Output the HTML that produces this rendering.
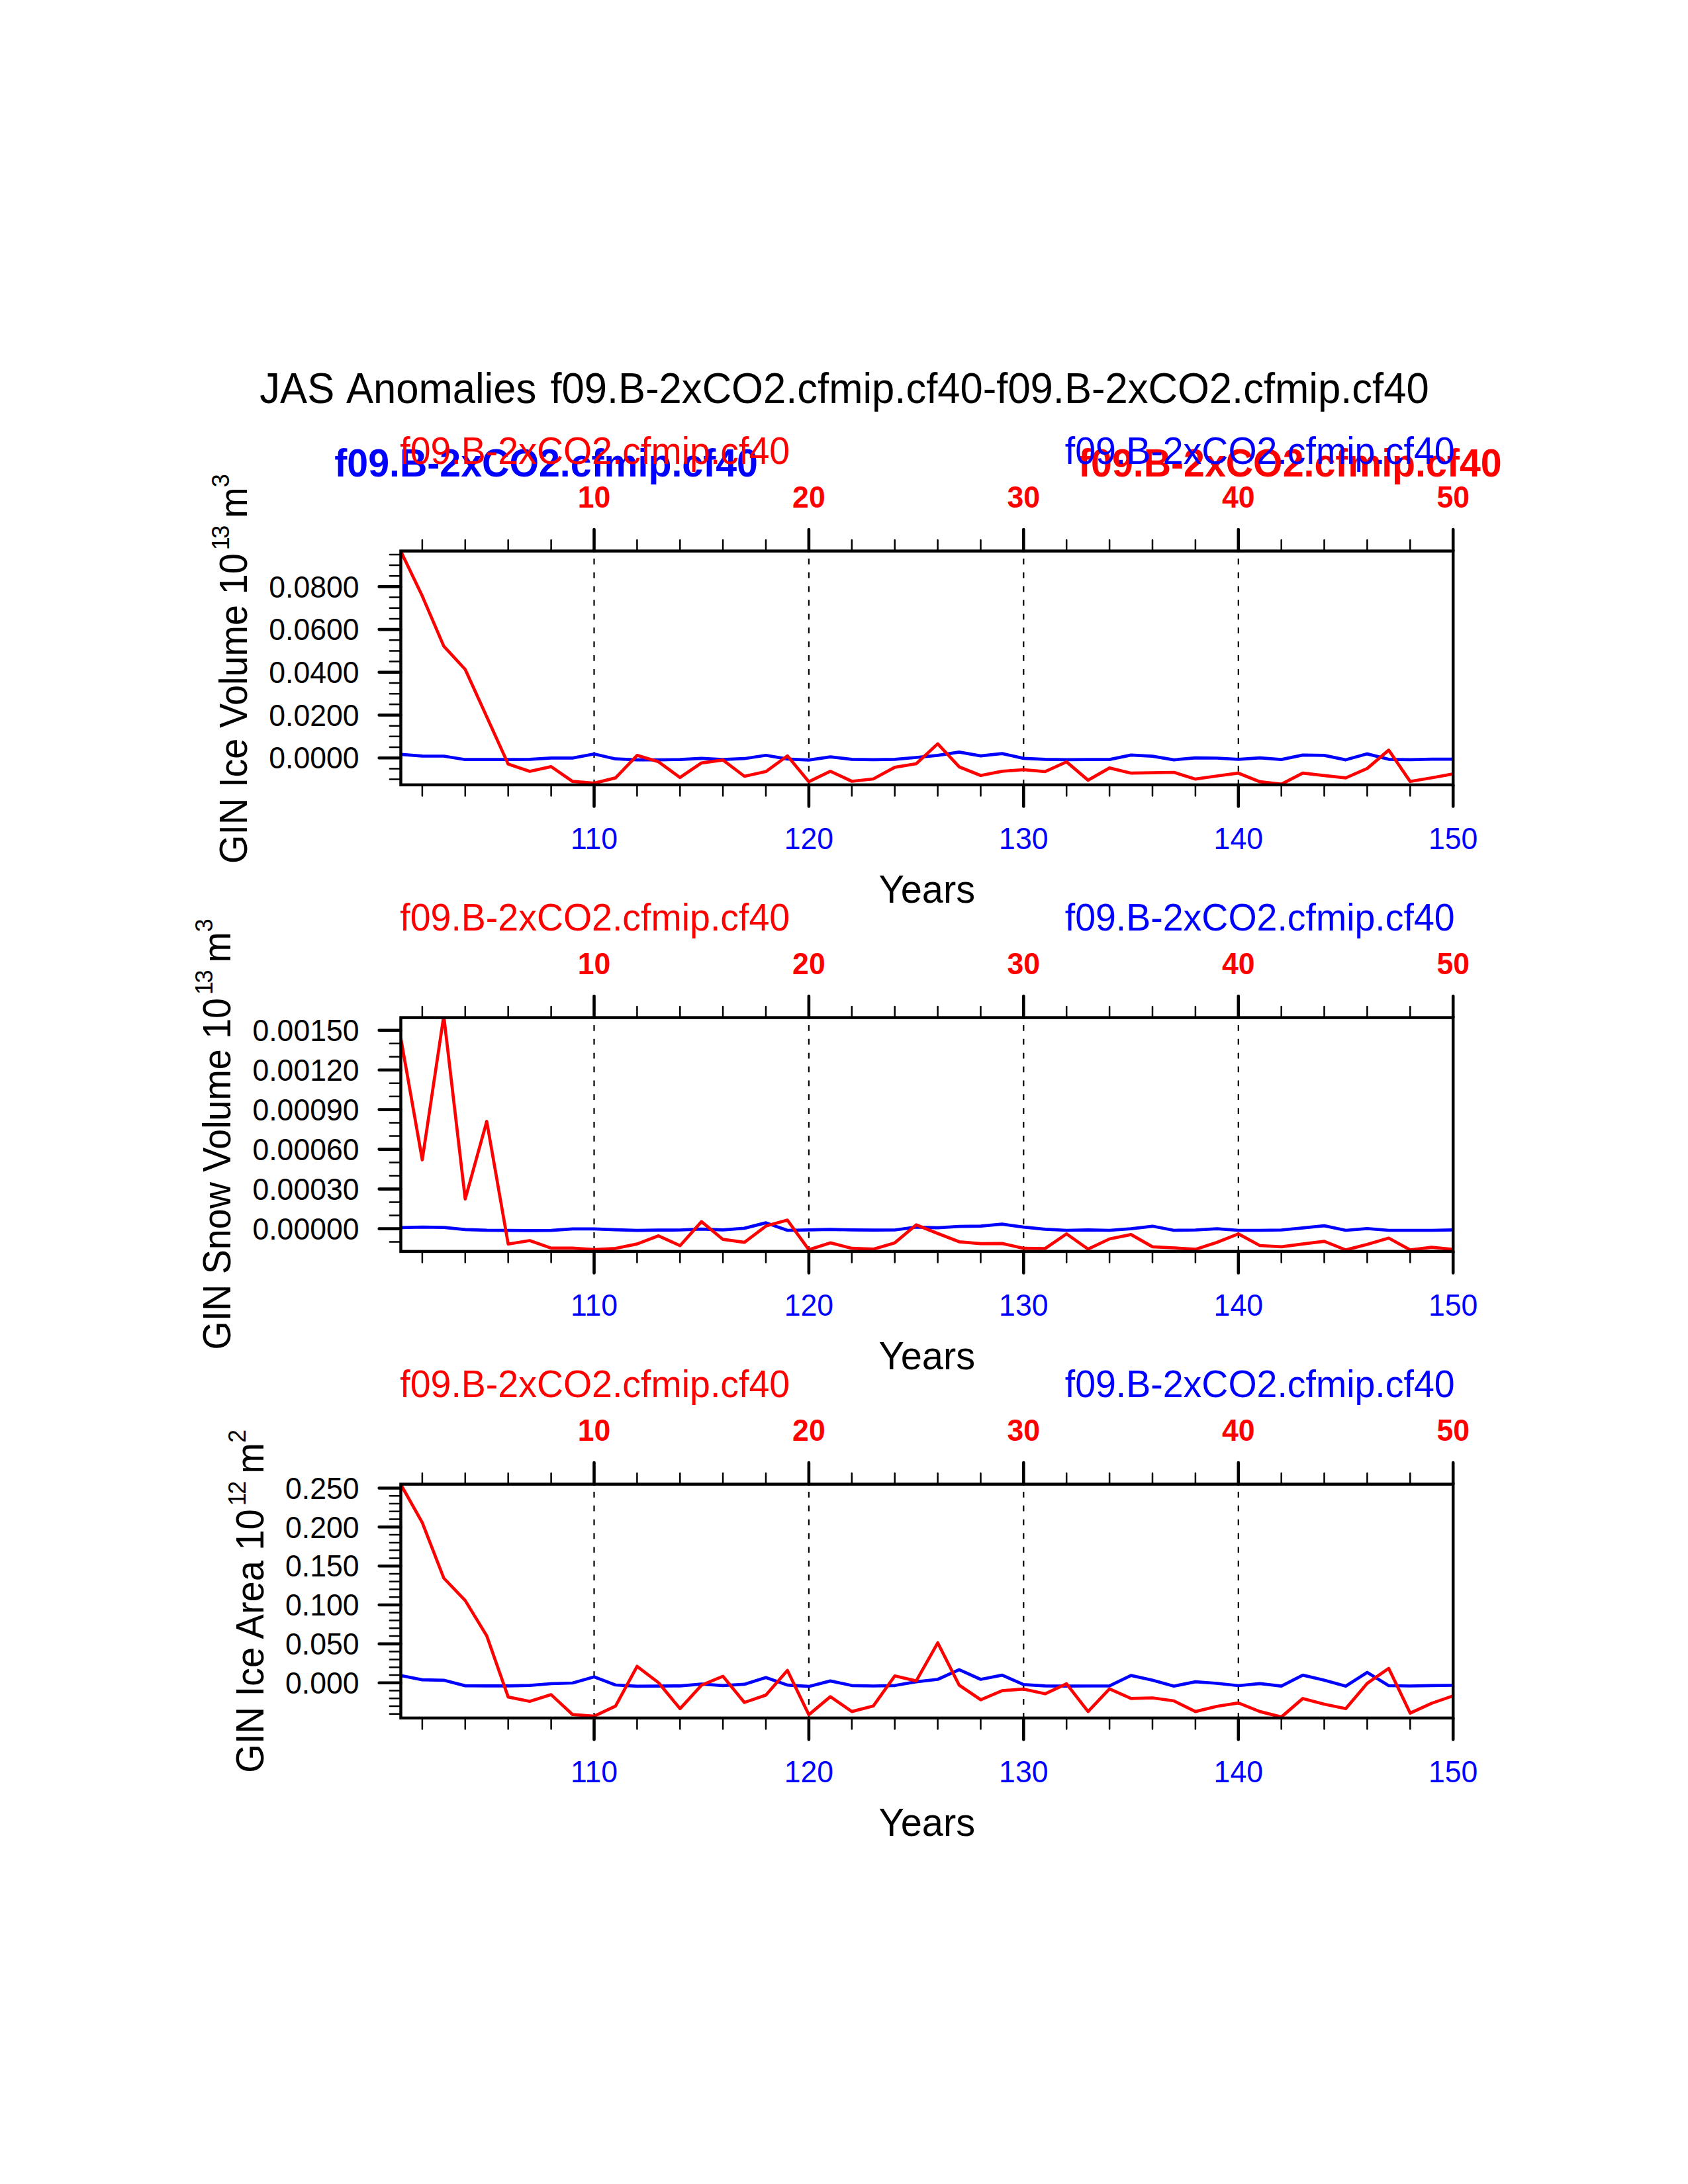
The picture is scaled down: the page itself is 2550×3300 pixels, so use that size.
<!DOCTYPE html>
<html lang="en"><head><meta charset="utf-8"><title>JAS Anomalies</title>
<style>html,body{margin:0;padding:0;background:#fff}svg{display:block}text{font-family:"Liberation Sans", sans-serif}</style></head><body>
<svg width="2550" height="3300" viewBox="0 0 2550 3300">
<rect width="2550" height="3300" fill="#fff"/>
<text class="title" transform="translate(1275.5 608.7) scale(1 1.050)" font-size="61.57" text-anchor="middle" fill="#000" word-spacing="4">JAS Anomalies f09.B-2xCO2.cfmip.cf40-f09.B-2xCO2.cfmip.cf40</text>
<text class="bb" transform="translate(505.3 720.4) scale(1 1.050)" font-size="57.27" font-weight="bold" fill="#0000ff">f09.B-2xCO2.cfmip.cf40</text>
<text class="rb" transform="translate(2268.6 720.0) scale(1 1.050)" font-size="57.27" font-weight="bold" text-anchor="end" fill="#ff0000">f09.B-2xCO2.cfmip.cf40</text>
<g id="panel1">
<clipPath id="clip1"><rect x="604.0" y="831.1" width="1592.7" height="356.3"/></clipPath>
<text class="lr" transform="translate(604.3 701.4) scale(1 1.050)" font-size="55.49" fill="#ff0000">f09.B-2xCO2.cfmip.cf40</text>
<text class="lb" transform="translate(2197.6 701.2) scale(1 1.050)" font-size="55.49" text-anchor="end" fill="#0000ff">f09.B-2xCO2.cfmip.cf40</text>
<line x1="897.5" y1="832.6" x2="897.5" y2="1185.9" stroke="#000" stroke-width="2.2" stroke-dasharray="8.7 12.17" stroke-dashoffset="-11.4"/>
<line x1="1221.9" y1="832.6" x2="1221.9" y2="1185.9" stroke="#000" stroke-width="2.2" stroke-dasharray="8.7 12.17" stroke-dashoffset="-11.4"/>
<line x1="1546.3" y1="832.6" x2="1546.3" y2="1185.9" stroke="#000" stroke-width="2.2" stroke-dasharray="8.7 12.17" stroke-dashoffset="-11.4"/>
<line x1="1870.8" y1="832.6" x2="1870.8" y2="1185.9" stroke="#000" stroke-width="2.2" stroke-dasharray="8.7 12.17" stroke-dashoffset="-11.4"/>
<polyline clip-path="url(#clip1)" points="605.5,1139.9 637.9,1142.3 670.4,1142.5 702.8,1147.7 735.3,1147.7 767.7,1147.7 800.2,1147.3 832.6,1145.4 865.0,1145.4 897.5,1139.2 929.9,1146.7 962.4,1148.1 994.8,1148.1 1027.3,1147.6 1059.7,1145.9 1092.1,1147.6 1124.6,1146.2 1157.0,1141.2 1189.5,1146.9 1221.9,1148.3 1254.4,1143.6 1286.8,1147.3 1319.2,1147.8 1351.7,1147.3 1384.1,1144.5 1416.6,1141.4 1449.0,1136.4 1481.5,1142.1 1513.9,1138.6 1546.3,1145.9 1578.8,1147.3 1611.2,1147.8 1643.7,1147.6 1676.1,1147.6 1708.6,1140.9 1741.0,1142.6 1773.4,1148.1 1805.9,1145.2 1838.3,1145.5 1870.8,1147.3 1903.2,1145.2 1935.7,1147.6 1968.1,1140.9 2000.5,1141.4 2033.0,1148.1 2065.4,1139.1 2097.9,1147.3 2130.3,1147.8 2162.8,1147.1 2195.2,1147.1" fill="none" stroke="#0000ff" stroke-width="4.7" stroke-linejoin="round" stroke-linecap="butt"/>
<polyline clip-path="url(#clip1)" points="605.5,833.0 637.9,900.6 670.4,976.4 702.8,1011.5 735.3,1083.0 767.7,1154.6 800.2,1165.5 832.6,1158.4 865.0,1180.7 897.5,1183.4 929.9,1175.4 962.4,1141.3 994.8,1151.1 1027.3,1174.8 1059.7,1152.8 1092.1,1148.3 1124.6,1173.0 1157.0,1165.8 1189.5,1142.1 1221.9,1181.2 1254.4,1165.4 1286.8,1180.5 1319.2,1177.0 1351.7,1159.4 1384.1,1154.0 1416.6,1123.9 1449.0,1158.7 1481.5,1171.8 1513.9,1165.4 1546.3,1163.0 1578.8,1165.8 1611.2,1151.1 1643.7,1178.9 1676.1,1160.4 1708.6,1168.2 1741.0,1167.7 1773.4,1167.0 1805.9,1177.2 1838.3,1172.5 1870.8,1168.2 1903.2,1181.2 1935.7,1184.8 1968.1,1168.2 2000.5,1171.8 2033.0,1175.3 2065.4,1161.1 2097.9,1133.4 2130.3,1180.8 2162.8,1175.3 2195.2,1169.4" fill="none" stroke="#ff0000" stroke-width="4.7" stroke-linejoin="round" stroke-linecap="butt"/>
<path d="M637.9 832.6v-16.5M637.9 1185.9v16.5M702.8 832.6v-16.5M702.8 1185.9v16.5M767.7 832.6v-16.5M767.7 1185.9v16.5M832.6 832.6v-16.5M832.6 1185.9v16.5M962.4 832.6v-16.5M962.4 1185.9v16.5M1027.3 832.6v-16.5M1027.3 1185.9v16.5M1092.1 832.6v-16.5M1092.1 1185.9v16.5M1157.0 832.6v-16.5M1157.0 1185.9v16.5M1286.8 832.6v-16.5M1286.8 1185.9v16.5M1351.7 832.6v-16.5M1351.7 1185.9v16.5M1416.6 832.6v-16.5M1416.6 1185.9v16.5M1481.5 832.6v-16.5M1481.5 1185.9v16.5M1611.2 832.6v-16.5M1611.2 1185.9v16.5M1676.1 832.6v-16.5M1676.1 1185.9v16.5M1741.0 832.6v-16.5M1741.0 1185.9v16.5M1805.9 832.6v-16.5M1805.9 1185.9v16.5M1935.7 832.6v-16.5M1935.7 1185.9v16.5M2000.5 832.6v-16.5M2000.5 1185.9v16.5M2065.4 832.6v-16.5M2065.4 1185.9v16.5M2130.3 832.6v-16.5M2130.3 1185.9v16.5" stroke="#000" stroke-width="2.5" stroke-linecap="round" fill="none"/>
<path d="M897.5 832.6v-32.6M897.5 1185.9v32.6M1221.9 832.6v-32.6M1221.9 1185.9v32.6M1546.3 832.6v-32.6M1546.3 1185.9v32.6M1870.8 832.6v-32.6M1870.8 1185.9v32.6M2195.2 832.6v-32.6M2195.2 1185.9v32.6" stroke="#000" stroke-width="4.6" stroke-linecap="round" fill="none"/>
<path d="M605.5 837.9h-16.6M605.5 854.0h-16.6M605.5 870.2h-16.6M605.5 902.6h-16.6M605.5 918.8h-16.6M605.5 934.9h-16.6M605.5 967.3h-16.6M605.5 983.5h-16.6M605.5 999.6h-16.6M605.5 1032.0h-16.6M605.5 1048.2h-16.6M605.5 1064.3h-16.6M605.5 1096.7h-16.6M605.5 1112.8h-16.6M605.5 1129.0h-16.6M605.5 1161.4h-16.6M605.5 1177.5h-16.6" stroke="#000" stroke-width="2.5" stroke-linecap="round" fill="none"/>
<path d="M605.5 886.4h-32.8M605.5 951.1h-32.8M605.5 1015.8h-32.8M605.5 1080.5h-32.8M605.5 1145.2h-32.8" stroke="#000" stroke-width="4.6" stroke-linecap="round" fill="none"/>
<rect x="605.5" y="832.6" width="1589.7" height="353.3" fill="none" stroke="#000" stroke-width="4.5"/>
<text class="tt" transform="translate(897.5 766.5) scale(1 1.050)" font-size="44.60" font-weight="bold" text-anchor="middle" fill="#ff0000">10</text>
<text class="tt" transform="translate(1221.9 766.5) scale(1 1.050)" font-size="44.60" font-weight="bold" text-anchor="middle" fill="#ff0000">20</text>
<text class="tt" transform="translate(1546.3 766.5) scale(1 1.050)" font-size="44.60" font-weight="bold" text-anchor="middle" fill="#ff0000">30</text>
<text class="tt" transform="translate(1870.8 766.5) scale(1 1.050)" font-size="44.60" font-weight="bold" text-anchor="middle" fill="#ff0000">40</text>
<text class="tt" transform="translate(2195.2 766.5) scale(1 1.050)" font-size="44.60" font-weight="bold" text-anchor="middle" fill="#ff0000">50</text>
<text class="tb" transform="translate(897.5 1282.6) scale(1 1.050)" font-size="44.60" text-anchor="middle" fill="#0000ff">110</text>
<text class="tb" transform="translate(1221.9 1282.6) scale(1 1.050)" font-size="44.60" text-anchor="middle" fill="#0000ff">120</text>
<text class="tb" transform="translate(1546.3 1282.6) scale(1 1.050)" font-size="44.60" text-anchor="middle" fill="#0000ff">130</text>
<text class="tb" transform="translate(1870.8 1282.6) scale(1 1.050)" font-size="44.60" text-anchor="middle" fill="#0000ff">140</text>
<text class="tb" transform="translate(2195.2 1282.6) scale(1 1.050)" font-size="44.60" text-anchor="middle" fill="#0000ff">150</text>
<text class="ty" transform="translate(542.6 902.6) scale(1 1.050)" font-size="44.60" text-anchor="end" fill="#000">0.0800</text>
<text class="ty" transform="translate(542.6 967.3) scale(1 1.050)" font-size="44.60" text-anchor="end" fill="#000">0.0600</text>
<text class="ty" transform="translate(542.6 1032.0) scale(1 1.050)" font-size="44.60" text-anchor="end" fill="#000">0.0400</text>
<text class="ty" transform="translate(542.6 1096.7) scale(1 1.050)" font-size="44.60" text-anchor="end" fill="#000">0.0200</text>
<text class="ty" transform="translate(542.6 1161.4) scale(1 1.050)" font-size="44.60" text-anchor="end" fill="#000">0.0000</text>
<text class="yr" transform="translate(1400.3 1363.7) scale(1 1.035)" font-size="57.80" text-anchor="middle" fill="#000">Years</text>
<text class="yt" transform="translate(373.3 1304.9) rotate(-90) scale(1 1.050)" font-size="55.85" fill="#000">GIN Ice Volume 10<tspan font-size="36.00" dx="5" dy="-25.7" letter-spacing="-2.5">13</tspan><tspan dx="-2" dy="25.7"> m</tspan><tspan font-size="36.00" dy="-25.7">3</tspan></text>
</g>
<g id="panel2">
<clipPath id="clip2"><rect x="604.0" y="1536.1" width="1592.7" height="356.3"/></clipPath>
<text class="lr" transform="translate(604.3 1406.4) scale(1 1.050)" font-size="55.49" fill="#ff0000">f09.B-2xCO2.cfmip.cf40</text>
<text class="lb" transform="translate(2197.6 1406.2) scale(1 1.050)" font-size="55.49" text-anchor="end" fill="#0000ff">f09.B-2xCO2.cfmip.cf40</text>
<line x1="897.5" y1="1537.6" x2="897.5" y2="1890.9" stroke="#000" stroke-width="2.2" stroke-dasharray="8.7 12.17" stroke-dashoffset="-11.4"/>
<line x1="1221.9" y1="1537.6" x2="1221.9" y2="1890.9" stroke="#000" stroke-width="2.2" stroke-dasharray="8.7 12.17" stroke-dashoffset="-11.4"/>
<line x1="1546.3" y1="1537.6" x2="1546.3" y2="1890.9" stroke="#000" stroke-width="2.2" stroke-dasharray="8.7 12.17" stroke-dashoffset="-11.4"/>
<line x1="1870.8" y1="1537.6" x2="1870.8" y2="1890.9" stroke="#000" stroke-width="2.2" stroke-dasharray="8.7 12.17" stroke-dashoffset="-11.4"/>
<polyline clip-path="url(#clip2)" points="605.5,1854.9 637.9,1854.2 670.4,1854.6 702.8,1857.9 735.3,1858.9 767.7,1859.1 800.2,1859.4 832.6,1859.1 865.0,1856.8 897.5,1856.8 929.9,1858.2 962.4,1859.2 994.8,1858.7 1027.3,1858.5 1059.7,1857.1 1092.1,1858.3 1124.6,1855.9 1157.0,1847.6 1189.5,1859.0 1221.9,1858.3 1254.4,1857.7 1286.8,1858.3 1319.2,1858.7 1351.7,1858.5 1384.1,1854.2 1416.6,1855.2 1449.0,1853.1 1481.5,1852.6 1513.9,1849.7 1546.3,1854.2 1578.8,1857.3 1611.2,1859.0 1643.7,1858.3 1676.1,1859.0 1708.6,1856.6 1741.0,1852.8 1773.4,1859.0 1805.9,1858.5 1838.3,1856.6 1870.8,1859.0 1903.2,1859.0 1935.7,1858.5 1968.1,1855.4 2000.5,1852.1 2033.0,1859.0 2065.4,1856.4 2097.9,1859.0 2130.3,1859.0 2162.8,1859.0 2195.2,1858.3" fill="none" stroke="#0000ff" stroke-width="4.7" stroke-linejoin="round" stroke-linecap="butt"/>
<polyline clip-path="url(#clip2)" points="605.5,1568.8 637.9,1752.5 670.4,1535.0 702.8,1811.7 735.3,1694.4 767.7,1879.7 800.2,1874.5 832.6,1885.9 865.0,1885.9 897.5,1888.2 929.9,1886.3 962.4,1879.6 994.8,1867.3 1027.3,1882.2 1059.7,1845.9 1092.1,1872.7 1124.6,1877.2 1157.0,1852.6 1189.5,1843.6 1221.9,1888.3 1254.4,1877.9 1286.8,1886.2 1319.2,1887.4 1351.7,1877.9 1384.1,1850.7 1416.6,1863.7 1449.0,1876.3 1481.5,1879.1 1513.9,1878.9 1546.3,1886.2 1578.8,1886.5 1611.2,1864.4 1643.7,1887.4 1676.1,1872.0 1708.6,1865.4 1741.0,1883.9 1773.4,1885.5 1805.9,1887.7 1838.3,1877.2 1870.8,1864.4 1903.2,1882.0 1935.7,1883.9 1968.1,1879.6 2000.5,1875.6 2033.0,1888.6 2065.4,1880.3 2097.9,1870.8 2130.3,1888.6 2162.8,1884.6 2195.2,1887.9" fill="none" stroke="#ff0000" stroke-width="4.7" stroke-linejoin="round" stroke-linecap="butt"/>
<path d="M637.9 1537.6v-16.5M637.9 1890.9v16.5M702.8 1537.6v-16.5M702.8 1890.9v16.5M767.7 1537.6v-16.5M767.7 1890.9v16.5M832.6 1537.6v-16.5M832.6 1890.9v16.5M962.4 1537.6v-16.5M962.4 1890.9v16.5M1027.3 1537.6v-16.5M1027.3 1890.9v16.5M1092.1 1537.6v-16.5M1092.1 1890.9v16.5M1157.0 1537.6v-16.5M1157.0 1890.9v16.5M1286.8 1537.6v-16.5M1286.8 1890.9v16.5M1351.7 1537.6v-16.5M1351.7 1890.9v16.5M1416.6 1537.6v-16.5M1416.6 1890.9v16.5M1481.5 1537.6v-16.5M1481.5 1890.9v16.5M1611.2 1537.6v-16.5M1611.2 1890.9v16.5M1676.1 1537.6v-16.5M1676.1 1890.9v16.5M1741.0 1537.6v-16.5M1741.0 1890.9v16.5M1805.9 1537.6v-16.5M1805.9 1890.9v16.5M1935.7 1537.6v-16.5M1935.7 1890.9v16.5M2000.5 1537.6v-16.5M2000.5 1890.9v16.5M2065.4 1537.6v-16.5M2065.4 1890.9v16.5M2130.3 1537.6v-16.5M2130.3 1890.9v16.5" stroke="#000" stroke-width="2.5" stroke-linecap="round" fill="none"/>
<path d="M897.5 1537.6v-32.6M897.5 1890.9v32.6M1221.9 1537.6v-32.6M1221.9 1890.9v32.6M1546.3 1537.6v-32.6M1546.3 1890.9v32.6M1870.8 1537.6v-32.6M1870.8 1890.9v32.6M2195.2 1537.6v-32.6M2195.2 1890.9v32.6" stroke="#000" stroke-width="4.6" stroke-linecap="round" fill="none"/>
<path d="M605.5 1576.7h-16.6M605.5 1596.7h-16.6M605.5 1636.7h-16.6M605.5 1656.7h-16.6M605.5 1696.6h-16.6M605.5 1716.6h-16.6M605.5 1756.6h-16.6M605.5 1776.6h-16.6M605.5 1816.6h-16.6M605.5 1836.6h-16.6M605.5 1876.5h-16.6" stroke="#000" stroke-width="2.5" stroke-linecap="round" fill="none"/>
<path d="M605.5 1556.7h-32.8M605.5 1616.7h-32.8M605.5 1676.6h-32.8M605.5 1736.6h-32.8M605.5 1796.6h-32.8M605.5 1856.6h-32.8" stroke="#000" stroke-width="4.6" stroke-linecap="round" fill="none"/>
<rect x="605.5" y="1537.6" width="1589.7" height="353.3" fill="none" stroke="#000" stroke-width="4.5"/>
<text class="tt" transform="translate(897.5 1471.5) scale(1 1.050)" font-size="44.60" font-weight="bold" text-anchor="middle" fill="#ff0000">10</text>
<text class="tt" transform="translate(1221.9 1471.5) scale(1 1.050)" font-size="44.60" font-weight="bold" text-anchor="middle" fill="#ff0000">20</text>
<text class="tt" transform="translate(1546.3 1471.5) scale(1 1.050)" font-size="44.60" font-weight="bold" text-anchor="middle" fill="#ff0000">30</text>
<text class="tt" transform="translate(1870.8 1471.5) scale(1 1.050)" font-size="44.60" font-weight="bold" text-anchor="middle" fill="#ff0000">40</text>
<text class="tt" transform="translate(2195.2 1471.5) scale(1 1.050)" font-size="44.60" font-weight="bold" text-anchor="middle" fill="#ff0000">50</text>
<text class="tb" transform="translate(897.5 1987.6) scale(1 1.050)" font-size="44.60" text-anchor="middle" fill="#0000ff">110</text>
<text class="tb" transform="translate(1221.9 1987.6) scale(1 1.050)" font-size="44.60" text-anchor="middle" fill="#0000ff">120</text>
<text class="tb" transform="translate(1546.3 1987.6) scale(1 1.050)" font-size="44.60" text-anchor="middle" fill="#0000ff">130</text>
<text class="tb" transform="translate(1870.8 1987.6) scale(1 1.050)" font-size="44.60" text-anchor="middle" fill="#0000ff">140</text>
<text class="tb" transform="translate(2195.2 1987.6) scale(1 1.050)" font-size="44.60" text-anchor="middle" fill="#0000ff">150</text>
<text class="ty" transform="translate(542.6 1572.9) scale(1 1.050)" font-size="44.60" text-anchor="end" fill="#000">0.00150</text>
<text class="ty" transform="translate(542.6 1632.9) scale(1 1.050)" font-size="44.60" text-anchor="end" fill="#000">0.00120</text>
<text class="ty" transform="translate(542.6 1692.8) scale(1 1.050)" font-size="44.60" text-anchor="end" fill="#000">0.00090</text>
<text class="ty" transform="translate(542.6 1752.8) scale(1 1.050)" font-size="44.60" text-anchor="end" fill="#000">0.00060</text>
<text class="ty" transform="translate(542.6 1812.8) scale(1 1.050)" font-size="44.60" text-anchor="end" fill="#000">0.00030</text>
<text class="ty" transform="translate(542.6 1872.8) scale(1 1.050)" font-size="44.60" text-anchor="end" fill="#000">0.00000</text>
<text class="yr" transform="translate(1400.3 2068.7) scale(1 1.035)" font-size="57.80" text-anchor="middle" fill="#000">Years</text>
<text class="yt" transform="translate(348.3 2039.5) rotate(-90) scale(1 1.050)" font-size="55.60" fill="#000">GIN Snow Volume 10<tspan font-size="36.00" dx="5" dy="-25.7" letter-spacing="-2.5">13</tspan><tspan dx="-2" dy="25.7"> m</tspan><tspan font-size="36.00" dy="-25.7">3</tspan></text>
</g>
<g id="panel3">
<clipPath id="clip3"><rect x="604.0" y="2241.1" width="1592.7" height="356.3"/></clipPath>
<text class="lr" transform="translate(604.3 2111.4) scale(1 1.050)" font-size="55.49" fill="#ff0000">f09.B-2xCO2.cfmip.cf40</text>
<text class="lb" transform="translate(2197.6 2111.2) scale(1 1.050)" font-size="55.49" text-anchor="end" fill="#0000ff">f09.B-2xCO2.cfmip.cf40</text>
<line x1="897.5" y1="2242.6" x2="897.5" y2="2595.9" stroke="#000" stroke-width="2.2" stroke-dasharray="8.7 12.17" stroke-dashoffset="-11.4"/>
<line x1="1221.9" y1="2242.6" x2="1221.9" y2="2595.9" stroke="#000" stroke-width="2.2" stroke-dasharray="8.7 12.17" stroke-dashoffset="-11.4"/>
<line x1="1546.3" y1="2242.6" x2="1546.3" y2="2595.9" stroke="#000" stroke-width="2.2" stroke-dasharray="8.7 12.17" stroke-dashoffset="-11.4"/>
<line x1="1870.8" y1="2242.6" x2="1870.8" y2="2595.9" stroke="#000" stroke-width="2.2" stroke-dasharray="8.7 12.17" stroke-dashoffset="-11.4"/>
<polyline clip-path="url(#clip3)" points="605.5,2531.7 637.9,2538.1 670.4,2538.8 702.8,2547.1 735.3,2547.3 767.7,2547.3 800.2,2546.6 832.6,2544.0 865.0,2543.0 897.5,2533.7 929.9,2546.0 962.4,2547.8 994.8,2547.7 1027.3,2547.3 1059.7,2544.6 1092.1,2546.8 1124.6,2544.9 1157.0,2534.7 1189.5,2546.1 1221.9,2548.2 1254.4,2539.9 1286.8,2546.8 1319.2,2547.5 1351.7,2546.8 1384.1,2541.1 1416.6,2537.5 1449.0,2522.8 1481.5,2537.5 1513.9,2531.1 1546.3,2545.4 1578.8,2547.3 1611.2,2547.7 1643.7,2547.5 1676.1,2547.3 1708.6,2531.6 1741.0,2538.7 1773.4,2547.7 1805.9,2541.1 1838.3,2543.5 1870.8,2547.0 1903.2,2543.9 1935.7,2547.7 1968.1,2531.1 2000.5,2538.7 2033.0,2547.7 2065.4,2526.9 2097.9,2547.0 2130.3,2547.5 2162.8,2546.8 2195.2,2546.5" fill="none" stroke="#0000ff" stroke-width="4.7" stroke-linejoin="round" stroke-linecap="butt"/>
<polyline clip-path="url(#clip3)" points="605.5,2243.0 637.9,2300.6 670.4,2384.5 702.8,2418.4 735.3,2471.7 767.7,2564.1 800.2,2570.8 832.6,2560.6 865.0,2590.7 897.5,2593.1 929.9,2577.8 962.4,2517.8 994.8,2542.5 1027.3,2581.8 1059.7,2546.3 1092.1,2532.8 1124.6,2572.4 1157.0,2561.2 1189.5,2524.0 1221.9,2590.9 1254.4,2563.6 1286.8,2586.1 1319.2,2577.8 1351.7,2532.3 1384.1,2539.9 1416.6,2482.3 1449.0,2546.3 1481.5,2568.3 1513.9,2554.6 1546.3,2552.2 1578.8,2559.3 1611.2,2544.2 1643.7,2586.1 1676.1,2551.8 1708.6,2566.4 1741.0,2565.5 1773.4,2570.0 1805.9,2586.1 1838.3,2578.3 1870.8,2573.1 1903.2,2586.1 1935.7,2594.4 1968.1,2566.4 2000.5,2575.0 2033.0,2581.8 2065.4,2543.5 2097.9,2520.9 2130.3,2588.5 2162.8,2573.6 2195.2,2562.4" fill="none" stroke="#ff0000" stroke-width="4.7" stroke-linejoin="round" stroke-linecap="butt"/>
<path d="M637.9 2242.6v-16.5M637.9 2595.9v16.5M702.8 2242.6v-16.5M702.8 2595.9v16.5M767.7 2242.6v-16.5M767.7 2595.9v16.5M832.6 2242.6v-16.5M832.6 2595.9v16.5M962.4 2242.6v-16.5M962.4 2595.9v16.5M1027.3 2242.6v-16.5M1027.3 2595.9v16.5M1092.1 2242.6v-16.5M1092.1 2595.9v16.5M1157.0 2242.6v-16.5M1157.0 2595.9v16.5M1286.8 2242.6v-16.5M1286.8 2595.9v16.5M1351.7 2242.6v-16.5M1351.7 2595.9v16.5M1416.6 2242.6v-16.5M1416.6 2595.9v16.5M1481.5 2242.6v-16.5M1481.5 2595.9v16.5M1611.2 2242.6v-16.5M1611.2 2595.9v16.5M1676.1 2242.6v-16.5M1676.1 2595.9v16.5M1741.0 2242.6v-16.5M1741.0 2595.9v16.5M1805.9 2242.6v-16.5M1805.9 2595.9v16.5M1935.7 2242.6v-16.5M1935.7 2595.9v16.5M2000.5 2242.6v-16.5M2000.5 2595.9v16.5M2065.4 2242.6v-16.5M2065.4 2595.9v16.5M2130.3 2242.6v-16.5M2130.3 2595.9v16.5" stroke="#000" stroke-width="2.5" stroke-linecap="round" fill="none"/>
<path d="M897.5 2242.6v-32.6M897.5 2595.9v32.6M1221.9 2242.6v-32.6M1221.9 2595.9v32.6M1546.3 2242.6v-32.6M1546.3 2595.9v32.6M1870.8 2242.6v-32.6M1870.8 2595.9v32.6M2195.2 2242.6v-32.6M2195.2 2595.9v32.6" stroke="#000" stroke-width="4.6" stroke-linecap="round" fill="none"/>
<path d="M605.5 2260.3h-16.6M605.5 2272.0h-16.6M605.5 2283.8h-16.6M605.5 2295.6h-16.6M605.5 2319.1h-16.6M605.5 2330.9h-16.6M605.5 2342.6h-16.6M605.5 2354.4h-16.6M605.5 2377.9h-16.6M605.5 2389.7h-16.6M605.5 2401.5h-16.6M605.5 2413.3h-16.6M605.5 2436.8h-16.6M605.5 2448.6h-16.6M605.5 2460.3h-16.6M605.5 2472.1h-16.6M605.5 2495.6h-16.6M605.5 2507.4h-16.6M605.5 2519.2h-16.6M605.5 2530.9h-16.6M605.5 2554.5h-16.6M605.5 2566.2h-16.6M605.5 2578.0h-16.6M605.5 2589.8h-16.6" stroke="#000" stroke-width="2.5" stroke-linecap="round" fill="none"/>
<path d="M605.5 2248.5h-32.8M605.5 2307.3h-32.8M605.5 2366.2h-32.8M605.5 2425.0h-32.8M605.5 2483.9h-32.8M605.5 2542.7h-32.8" stroke="#000" stroke-width="4.6" stroke-linecap="round" fill="none"/>
<rect x="605.5" y="2242.6" width="1589.7" height="353.3" fill="none" stroke="#000" stroke-width="4.5"/>
<text class="tt" transform="translate(897.5 2176.5) scale(1 1.050)" font-size="44.60" font-weight="bold" text-anchor="middle" fill="#ff0000">10</text>
<text class="tt" transform="translate(1221.9 2176.5) scale(1 1.050)" font-size="44.60" font-weight="bold" text-anchor="middle" fill="#ff0000">20</text>
<text class="tt" transform="translate(1546.3 2176.5) scale(1 1.050)" font-size="44.60" font-weight="bold" text-anchor="middle" fill="#ff0000">30</text>
<text class="tt" transform="translate(1870.8 2176.5) scale(1 1.050)" font-size="44.60" font-weight="bold" text-anchor="middle" fill="#ff0000">40</text>
<text class="tt" transform="translate(2195.2 2176.5) scale(1 1.050)" font-size="44.60" font-weight="bold" text-anchor="middle" fill="#ff0000">50</text>
<text class="tb" transform="translate(897.5 2692.6) scale(1 1.050)" font-size="44.60" text-anchor="middle" fill="#0000ff">110</text>
<text class="tb" transform="translate(1221.9 2692.6) scale(1 1.050)" font-size="44.60" text-anchor="middle" fill="#0000ff">120</text>
<text class="tb" transform="translate(1546.3 2692.6) scale(1 1.050)" font-size="44.60" text-anchor="middle" fill="#0000ff">130</text>
<text class="tb" transform="translate(1870.8 2692.6) scale(1 1.050)" font-size="44.60" text-anchor="middle" fill="#0000ff">140</text>
<text class="tb" transform="translate(2195.2 2692.6) scale(1 1.050)" font-size="44.60" text-anchor="middle" fill="#0000ff">150</text>
<text class="ty" transform="translate(542.6 2264.7) scale(1 1.050)" font-size="44.60" text-anchor="end" fill="#000">0.250</text>
<text class="ty" transform="translate(542.6 2323.5) scale(1 1.050)" font-size="44.60" text-anchor="end" fill="#000">0.200</text>
<text class="ty" transform="translate(542.6 2382.4) scale(1 1.050)" font-size="44.60" text-anchor="end" fill="#000">0.150</text>
<text class="ty" transform="translate(542.6 2441.2) scale(1 1.050)" font-size="44.60" text-anchor="end" fill="#000">0.100</text>
<text class="ty" transform="translate(542.6 2500.1) scale(1 1.050)" font-size="44.60" text-anchor="end" fill="#000">0.050</text>
<text class="ty" transform="translate(542.6 2558.9) scale(1 1.050)" font-size="44.60" text-anchor="end" fill="#000">0.000</text>
<text class="yr" transform="translate(1400.3 2773.7) scale(1 1.035)" font-size="57.80" text-anchor="middle" fill="#000">Years</text>
<text class="yt" transform="translate(397.8 2678.7) rotate(-90) scale(1 1.050)" font-size="56.00" fill="#000">GIN Ice Area 10<tspan font-size="36.00" dx="5" dy="-25.7" letter-spacing="-2.5">12</tspan><tspan dx="-2" dy="25.7"> m</tspan><tspan font-size="36.00" dy="-25.7">2</tspan></text>
</g>
</svg></body></html>
